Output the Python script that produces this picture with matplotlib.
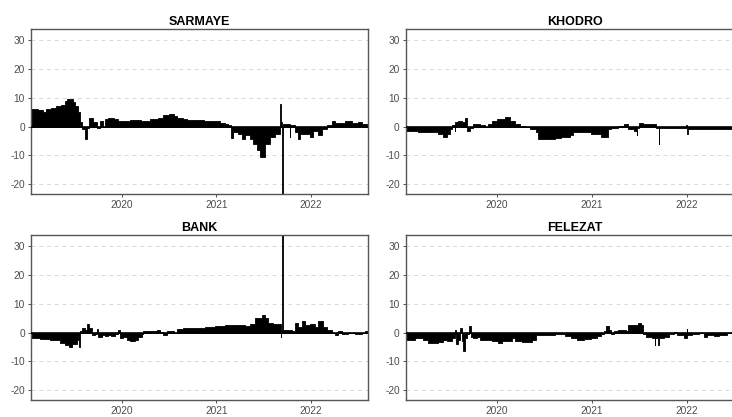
import matplotlib
matplotlib.use("Agg")
import matplotlib.pyplot as plt
import matplotlib.dates as mdates
import pandas as pd

plt.rcParams['font.family'] = ['Liberation Sans', 'DejaVu Sans']
plt.rcParams['axes.unicode_minus'] = False

# data (value holds from its date until the next one)
end_date = "2022-08-10"

sarmaye_dates = ["2019-01-15", "2019-02-10", "2019-03-01", "2019-03-15", "2019-04-01", "2019-04-20",
                 "2019-05-10", "2019-05-25", "2019-06-05", "2019-06-25", "2019-07-05", "2019-07-15",
                 "2019-07-25", "2019-08-01", "2019-08-12", "2019-08-18", "2019-08-27", "2019-09-12",
                 "2019-09-27", "2019-10-08", "2019-10-20", "2019-10-28", "2019-11-08", "2019-12-01",
                 "2019-12-17", "2020-02-01", "2020-03-15", "2020-04-20", "2020-05-20", "2020-06-09",
                 "2020-07-01", "2020-07-20", "2020-08-02", "2020-08-25", "2020-09-10", "2020-11-15",
                 "2020-12-20", "2021-01-15", "2021-02-05", "2021-02-15", "2021-02-27", "2021-03-06",
                 "2021-03-25", "2021-04-10", "2021-04-22", "2021-05-11", "2021-05-23", "2021-06-07",
                 "2021-06-19", "2021-07-08", "2021-07-27", "2021-08-16", "2021-09-04", "2021-09-06",
                 "2021-09-12", "2021-09-14", "2021-09-16", "2021-10-12", "2021-10-14", "2021-11-01",
                 "2021-11-12", "2021-11-20", "2021-12-29", "2022-01-10", "2022-01-29", "2022-02-14",
                 "2022-03-05", "2022-03-24", "2022-04-05", "2022-05-13", "2022-06-10", "2022-07-03",
                 "2022-07-18"]
sarmaye_values = [6.0, 5.6, 5.0, 6.0, 6.6, 7.0,
                  7.4, 9.0, 9.6, 8.5, 7.0, 5.0,
                  1.5, -1.0, -4.4, -0.5, 3.0, 1.5,
                  -0.5, 2.0, -0.3, 2.5, 3.0, 2.5,
                  2.0, 2.3, 2.0, 2.5, 3.0, 4.0,
                  4.4, 3.8, 3.0, 2.5, 2.2, 2.0,
                  1.8, 1.4, 1.0, 0.5, -4.1, -2.0,
                  -2.5, -4.5, -3.0, -4.5, -6.0, -8.0,
                  -10.5, -6.0, -3.5, -2.5, 7.8, 1.5,
                  -24.0, -11.0, 1.0, -3.5, 0.5, -2.0,
                  -4.5, -2.5, -3.5, -1.5, -3.0, -1.0,
                  0.5, 2.0, 1.3, 1.8, 1.2, 1.5,
                  0.8]

khodro_dates = ["2019-01-15", "2019-03-04", "2019-04-17", "2019-05-20", "2019-06-08", "2019-06-21",
                "2019-07-04", "2019-07-13", "2019-07-21", "2019-07-23", "2019-08-05", "2019-08-18",
                "2019-08-31", "2019-09-06", "2019-09-19", "2019-10-02", "2019-10-27", "2019-11-15",
                "2019-11-28", "2019-12-11", "2019-12-31", "2020-02-01", "2020-02-20", "2020-03-10",
                "2020-03-29", "2020-04-17", "2020-05-06", "2020-06-01", "2020-06-08", "2020-07-03",
                "2020-08-10", "2020-09-05", "2020-10-07", "2020-10-20", "2020-11-18", "2020-12-27",
                "2021-02-04", "2021-03-02", "2021-03-15", "2021-04-10", "2021-05-05", "2021-05-18",
                "2021-06-13", "2021-06-22", "2021-06-25", "2021-07-02", "2021-07-15", "2021-08-29",
                "2021-09-04", "2021-09-16", "2021-09-18", "2021-10-31", "2021-12-09", "2021-12-28",
                "2022-01-03", "2022-01-05", "2022-03-08", "2022-04-16", "2022-06-26"]
khodro_values = [-1.5, -2.0, -1.8, -2.5, -3.5, -2.5,
                 -1.0, 0.5, -1.5, 1.5, 2.0, 1.5,
                 3.0, -1.5, -0.5, 1.0, 0.7, -0.3,
                 1.0, 2.0, 2.7, 3.2, 2.0, 1.0,
                 0.3, -0.3, -1.0, -2.0, -4.5, -4.2,
                 -4.0, -3.5, -3.0, -1.8, -2.0, -2.5,
                 -3.5, -1.0, -0.5, 0.3, 0.8, -1.0,
                 -1.5, -3.0, -0.5, 1.3, 1.0, 0.8,
                 -0.5, -6.2, -0.5, -0.4, -0.5, 0.5,
                 -2.5, -1.0, -0.8, -0.9, -0.8]

bank_dates = ["2019-01-15", "2019-02-19", "2019-03-29", "2019-05-08", "2019-05-27", "2019-06-09",
              "2019-06-22", "2019-07-11", "2019-07-20", "2019-07-24", "2019-07-30", "2019-08-12",
              "2019-08-21", "2019-08-29", "2019-09-07", "2019-09-19", "2019-09-26", "2019-10-02",
              "2019-10-15", "2019-10-28", "2019-11-10", "2019-11-22", "2019-12-05", "2019-12-18",
              "2019-12-24", "2020-01-07", "2020-01-20", "2020-02-02", "2020-02-21", "2020-03-05",
              "2020-03-18", "2020-03-24", "2020-04-19", "2020-05-15", "2020-05-28", "2020-06-10",
              "2020-06-23", "2020-07-19", "2020-07-31", "2020-08-26", "2020-10-10", "2020-11-17",
              "2020-12-26", "2021-02-03", "2021-03-14", "2021-04-22", "2021-05-11", "2021-05-30",
              "2021-06-26", "2021-07-08", "2021-07-19", "2021-08-08", "2021-09-06", "2021-09-08",
              "2021-09-13", "2021-09-14", "2021-09-15", "2021-09-16", "2021-10-20", "2021-11-01",
              "2021-11-12", "2021-11-28", "2021-12-09", "2021-12-29", "2022-01-17", "2022-01-29",
              "2022-02-17", "2022-03-05", "2022-03-24", "2022-04-05", "2022-04-16", "2022-05-01",
              "2022-05-24", "2022-06-21", "2022-07-18", "2022-07-30"]
bank_values = [-2.0, -2.3, -2.5, -3.5, -4.5, -5.0,
               -4.0, -2.5, -5.0, 0.5, 1.5, 1.0,
               3.0, 1.5, -0.8, -0.5, 1.2, -1.5,
               -1.0, -1.2, -0.8, -1.3, -0.5, 0.8,
               -2.0, -1.5, -2.5, -3.0, -2.5, -1.5,
               -0.5, 0.7, 0.5, 0.8, 0.3, -0.8,
               0.5, 0.0, 1.2, 1.5, 1.6, 1.8,
               2.2, 2.5, 2.7, 2.2, 3.0, 5.0,
               6.0, 5.0, 3.5, 3.0, -1.5, 0.5,
               35.0, 17.0, 11.0, 1.0, 0.5, 3.5,
               2.0, 4.0, 2.5, 3.0, 2.0, 4.0,
               2.0, 1.0, -0.3, -1.0, 0.5, -0.5,
               -0.3, -0.5, -0.2, 0.5]

felezat_dates = ["2019-01-15", "2019-02-19", "2019-03-23", "2019-04-11", "2019-05-20", "2019-06-08",
                 "2019-06-21", "2019-07-10", "2019-07-21", "2019-07-26", "2019-08-03", "2019-08-12",
                 "2019-08-18", "2019-08-24", "2019-08-31", "2019-09-06", "2019-09-13", "2019-09-23",
                 "2019-10-02", "2019-10-14", "2019-10-27", "2019-12-11", "2020-01-06", "2020-01-19",
                 "2020-02-26", "2020-03-10", "2020-04-05", "2020-05-13", "2020-06-01", "2020-07-03",
                 "2020-08-10", "2020-09-19", "2020-10-14", "2020-11-06", "2020-12-02", "2020-12-27",
                 "2021-01-22", "2021-02-04", "2021-02-17", "2021-02-23", "2021-03-08", "2021-03-14",
                 "2021-03-27", "2021-04-10", "2021-05-11", "2021-05-18", "2021-06-26", "2021-07-08",
                 "2021-07-15", "2021-07-27", "2021-08-22", "2021-08-31", "2021-09-02", "2021-09-13",
                 "2021-09-15", "2021-10-06", "2021-10-25", "2021-11-13", "2021-11-26", "2021-12-22",
                 "2022-01-01", "2022-01-03", "2022-01-23", "2022-02-17", "2022-03-08", "2022-03-21",
                 "2022-04-16", "2022-05-05", "2022-06-06", "2022-06-19"]
felezat_values = [-2.5, -2.0, -2.5, -3.5, -3.3, -2.5,
                  -2.8, -2.0, 0.8, -4.0, -2.5, 1.5,
                  -3.0, -6.5, -2.0, -0.5, 2.3, -1.5,
                  -2.0, -1.5, -2.5, -2.8, -3.5, -3.0,
                  -2.0, -3.0, -3.3, -2.5, -1.0, -0.8,
                  -0.5, -1.2, -2.0, -2.7, -2.3, -2.0,
                  -1.3, -0.5, 0.5, 2.3, 0.8, -0.4,
                  0.5, 1.0, 0.5, 2.5, 3.5, 2.5,
                  -0.5, -1.5, -2.0, -4.5, -2.0, -4.5,
                  -2.0, -1.5, -0.5, 0.3, -1.0, -2.0,
                  1.2, -1.0, -0.5, -0.3, -1.5, -0.8,
                  -1.3, -0.8, -0.3, 0.3]

titles = ["SARMAYE", "KHODRO", "BANK", "FELEZAT"]
all_dates = [sarmaye_dates, khodro_dates, bank_dates, felezat_dates]
all_values = [sarmaye_values, khodro_values, bank_values, felezat_values]

W, H = 732, 417
fig = plt.figure(figsize=(W / 100, H / 100), dpi=100)

# panel boxes in pixels: left, top, right, bottom (right column runs past the image edge)
boxes = [(31, 29, 368, 194), (406, 29, 744, 194),
         (31, 235, 368, 400), (406, 235, 744, 400)]

for i in range(4):
    l, t, r, b = boxes[i]
    ax = fig.add_axes([l / W, 1 - b / H, (r - l) / W, (b - t) / H])

    x = pd.to_datetime(all_dates[i] + [end_date])
    y = list(all_values[i]) + [all_values[i][-1]]
    ax.fill_between(x, 0, y, step='post', facecolor='black', edgecolor='black', linewidth=0.6)
    ax.axhline(0, color='black', lw=1.2, zorder=3)

    ax.set_xlim(pd.Timestamp(all_dates[i][0]), pd.Timestamp(end_date))
    ax.set_ylim(-23.5, 34)
    ax.set_yticks([-20, -10, 0, 10, 20, 30])
    ax.set_xticks(pd.to_datetime(["2020-01-01", "2021-01-01", "2022-01-01"]))
    ax.xaxis.set_major_formatter(mdates.DateFormatter('%Y'))

    ax.grid(axis='y', color='#d9d9d9', linestyle=(0, (4, 4)), lw=0.7)
    ax.set_axisbelow(True)
    for s in ax.spines.values():
        s.set_color('#555555')
        s.set_linewidth(1.0)
    ax.tick_params(axis='both', labelsize=7.3, labelcolor='#4d4d4d', color='#333333',
                   length=2.5, width=0.6, pad=2)
    ax.set_title(titles[i], fontsize=9, fontweight='bold', pad=3)

fig.savefig("out.png", dpi=100)
